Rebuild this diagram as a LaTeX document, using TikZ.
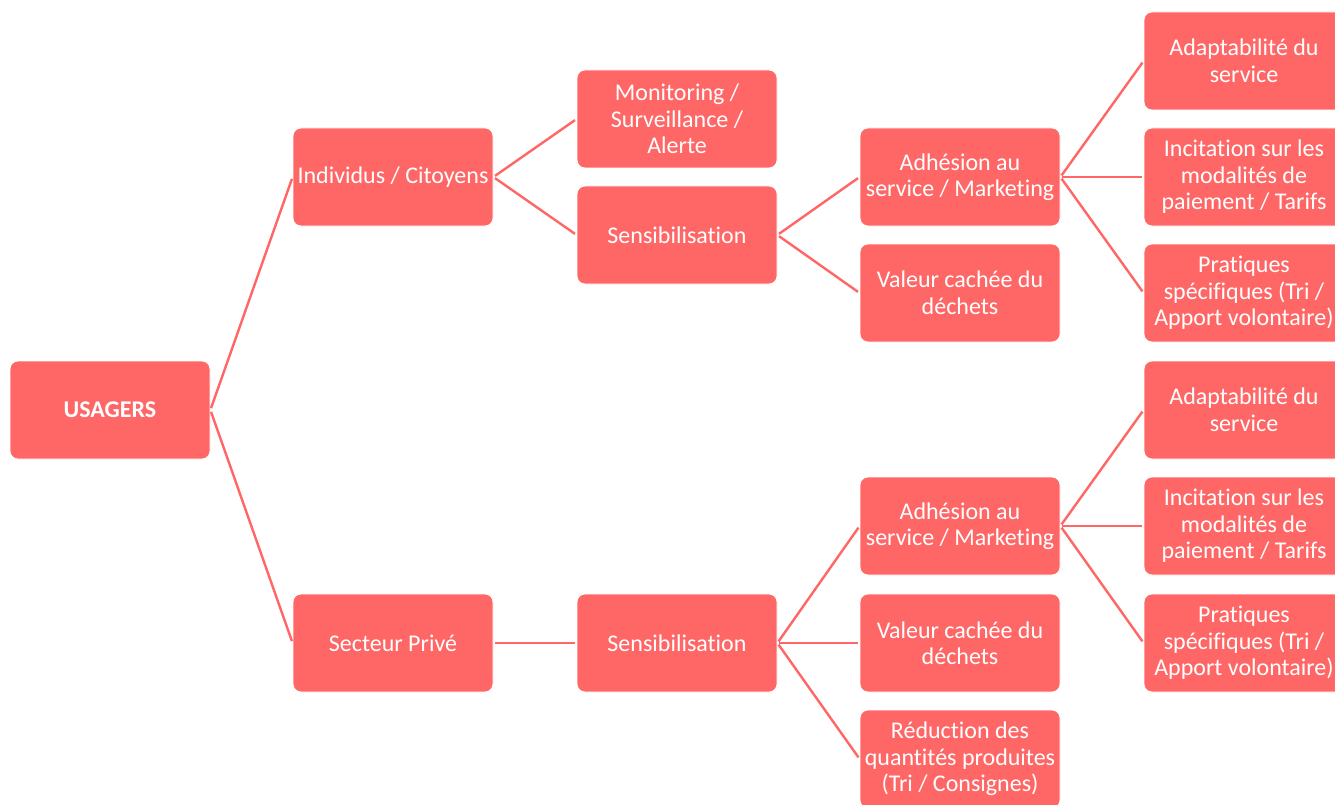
\documentclass[tikz,border=0pt]{standalone}
\usepackage{fontspec}
\setmainfont[Ligatures=NoCommon]{Carlito}
\definecolor{salmon}{HTML}{FF6666}
\begin{document}
\begin{tikzpicture}[x=1pt,y=-1pt,
  box/.style={fill=salmon,draw=white,line width=0.8pt,rounded corners=8pt,
    minimum width=200pt,minimum height=98pt,inner sep=0pt,text=white,
    align=center,font=\fontsize{24}{26.5}\selectfont},
  link/.style={draw=salmon,line width=2.4pt,shorten <=2pt,shorten >=2pt}]
\useasboundingbox (0,0) rectangle (1335,805);
\clip (0,0) rectangle (1335,805);
\fill[white] (0,0) rectangle (1335,805);
\node[box] (u) at (110,410) {\textbf{USAGERS}};
\node[box] (ic) at (393,177) {Individus / Citoyens};
\node[box] (sp) at (393,643) {Secteur Privé};
\node[box] (mo) at (677,119) {Monitoring /\\Surveillance /\\Alerte};
\node[box] (s1) at (677,235) {Sensibilisation};
\node[box] (s2) at (677,643) {Sensibilisation};
\node[box] (a1) at (960,177) {Adhésion au\\service / Marketing};
\node[box] (v1) at (960,293) {Valeur cachée du\\déchets};
\node[box] (a2) at (960,526) {Adhésion au\\service / Marketing};
\node[box] (v2) at (960,643) {Valeur cachée du\\déchets};
\node[box] (r2) at (960,759) {Réduction des\\quantités produites\\(Tri / Consignes)};
\node[box] (ad1) at (1244,61) {Adaptabilité du\\service};
\node[box] (in1) at (1244,177) {Incitation sur les\\modalités de\\paiement / Tarifs};
\node[box] (pr1) at (1244,293) {Pratiques\\spécifiques (Tri /\\Apport volontaire)};
\node[box] (ad2) at (1244,410) {Adaptabilité du\\service};
\node[box] (in2) at (1244,526) {Incitation sur les\\modalités de\\paiement / Tarifs};
\node[box] (pr2) at (1244,643) {Pratiques\\spécifiques (Tri /\\Apport volontaire)};
\foreach \p/\c in {u/ic,u/sp,ic/mo,ic/s1,sp/s2,s1/a1,s1/v1,s2/a2,s2/v2,s2/r2,a1/ad1,a1/in1,a1/pr1,a2/ad2,a2/in2,a2/pr2}
  \draw[link] (\p.east) -- (\c.west);
\end{tikzpicture}
\end{document}
